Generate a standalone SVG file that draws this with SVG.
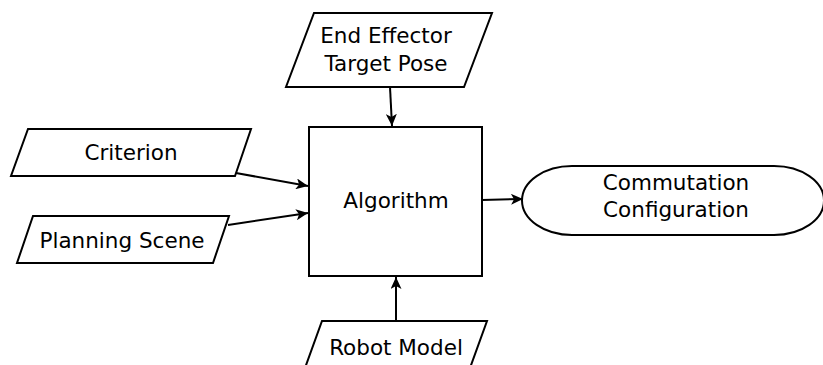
<svg xmlns="http://www.w3.org/2000/svg" width="823" height="365" viewBox="0 0 823 365">
  <style>
    .shape { fill: #ffffff; stroke: #000000; stroke-width: 2; }
    .edge { fill: none; stroke: #000000; stroke-width: 2; }
    text { font-family: "DejaVu Sans", sans-serif; font-size: 21.5px; fill: #000000; text-anchor: middle; }
  </style>
  <defs>
    <!-- filled arrowhead with a slightly notched back -->
    <marker id="arrow" viewBox="0 0 12 11" refX="12" refY="5.5" markerWidth="12" markerHeight="11" markerUnits="userSpaceOnUse" orient="auto">
      <path d="M0,0 L12,5.5 L0,11 L3,5.5 Z" fill="#000000"/>
    </marker>
  </defs>
  <rect width="823" height="365" fill="#ffffff"/>

  <g id="end-effector">
    <path class="shape" d="M314,13 L492,13 L464,87 L286,87 Z"/>
    <text x="386" y="43">End Effector</text>
    <text x="386" y="71">Target Pose</text>
  </g>

  <g id="criterion">
    <path class="shape" d="M28,129 L251,129 L235,176 L11,176 Z"/>
    <text x="131" y="160">Criterion</text>
  </g>

  <g id="planning-scene">
    <path class="shape" d="M33,216 L229,216 L213,263 L17,263 Z"/>
    <text x="122" y="248">Planning Scene</text>
  </g>

  <g id="algorithm">
    <rect class="shape" x="309" y="127" width="173" height="149"/>
    <text x="396" y="208">Algorithm</text>
  </g>

  <g id="robot-model">
    <path class="shape" d="M322,321 L487,321 L470,368 L305,368 Z"/>
    <text x="396" y="355">Robot Model</text>
  </g>

  <g id="commutation-configuration">
    <path class="shape" d="M572,166 L774,166 A50,34.5 0 0 1 774,235 L572,235 A50,34.5 0 0 1 572,166 Z"/>
    <text x="676" y="190">Commutation</text>
    <text x="676" y="217">Configuration</text>
  </g>

  <g id="connectors">
    <path class="edge" marker-end="url(#arrow)" d="M390,87 L392,126"/>
    <path class="edge" marker-end="url(#arrow)" d="M236,173 L308,186"/>
    <path class="edge" marker-end="url(#arrow)" d="M228,225 L308,213"/>
    <path class="edge" marker-end="url(#arrow)" d="M396,321 L396,277"/>
    <path class="edge" marker-end="url(#arrow)" d="M482,200 L523,199"/>
  </g>
</svg>
